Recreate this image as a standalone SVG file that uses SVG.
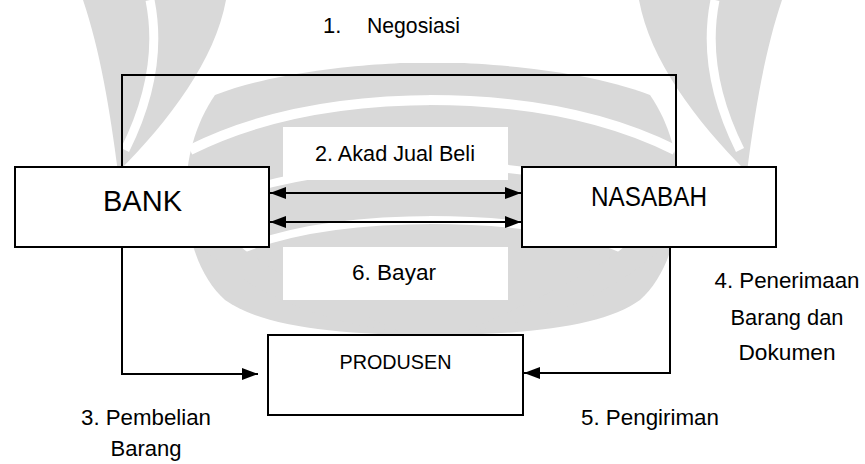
<svg xmlns="http://www.w3.org/2000/svg" xmlns:xlink="http://www.w3.org/1999/xlink" width="865" height="464" viewBox="0 0 865 464">
  <defs>
    <style>
      .wm { fill: #d9d9d9; stroke: none; }
      .wmw { fill: none; stroke: #ffffff; }
      .pad { fill: #ffffff; stroke: none; }
      .box { fill: #ffffff; stroke: #000000; stroke-width: 2; }
      .conn { fill: none; stroke: #000000; stroke-width: 2; }
      text { font-family: "Liberation Sans", Arial, sans-serif; fill: #000000; }
      .lbl { font-size: 22px; }
    </style>
    <marker id="arr" viewBox="0 0 16 12" refX="16" refY="6" markerWidth="16" markerHeight="12" markerUnits="userSpaceOnUse" orient="auto-start-reverse">
      <path d="M0,0 L16,6 L0,12 Z" fill="#000000"/>
    </marker>
    <g id="wmhalf">
      <path class="wm" d="M83,0 H226 C215,60 170,120 118,172 C110,110 100,50 83,0 Z"/>
      <path class="wmw" stroke-width="9" d="M150,0 C160,50 150,100 125,150"/>
      <path class="wm" d="M215,95 C300,62 436,62 436,62 V335 C330,335 260,325 225,300 C180,260 170,160 215,95 Z"/>
      <path class="wmw" stroke-width="10" d="M190,150 C280,105 380,100 436,100"/>
      <path class="wmw" stroke-width="8" d="M215,200 C300,170 380,165 436,165"/>
      <path class="wmw" stroke-width="8" d="M240,250 C300,225 380,220 436,220"/>
      <path class="wm" d="M187,232 C230,280 300,320 400,332 C330,300 260,270 225,232 Z"/>
    </g>
  </defs>

  <g id="watermark">
    <use xlink:href="#wmhalf"/>
    <use xlink:href="#wmhalf" transform="translate(865,0) scale(-1,1)"/>
  </g>

  <g id="label-pads">
    <rect class="pad" x="258" y="0" width="281" height="63"/>
    <rect class="pad" x="283" y="127" width="225" height="53"/>
    <rect class="pad" x="283" y="247" width="225" height="53"/>
  </g>

  <g id="connectors">
    <path class="conn" d="M122,167 V75 H676 V167"/>
    <line class="conn" x1="270" y1="193" x2="521" y2="193" marker-start="url(#arr)" marker-end="url(#arr)"/>
    <line class="conn" x1="270" y1="222" x2="521" y2="222" marker-start="url(#arr)" marker-end="url(#arr)"/>
    <path class="conn" d="M122,247 V374 H258" marker-end="url(#arr)"/>
    <path class="conn" d="M670,247 V373 H524" marker-end="url(#arr)"/>
  </g>

  <g id="bank">
    <rect class="box" x="15" y="167" width="254" height="80"/>
    <text x="142.5" y="211" font-size="29" text-anchor="middle" textLength="79" lengthAdjust="spacingAndGlyphs">BANK</text>
  </g>
  <g id="nasabah">
    <rect class="box" x="522" y="167" width="254" height="80"/>
    <text x="649" y="205.5" font-size="28" text-anchor="middle" textLength="116" lengthAdjust="spacingAndGlyphs">NASABAH</text>
  </g>
  <g id="produsen">
    <rect class="box" x="268" y="335" width="255" height="80"/>
    <text x="395.5" y="369" font-size="21" text-anchor="middle" textLength="112" lengthAdjust="spacingAndGlyphs">PRODUSEN</text>
  </g>

  <g id="labels">
    <text class="lbl" x="323" y="33">1.</text>
    <text class="lbl" x="367" y="33" textLength="93" lengthAdjust="spacingAndGlyphs">Negosiasi</text>
    <text class="lbl" x="395" y="161" text-anchor="middle" textLength="160" lengthAdjust="spacingAndGlyphs">2. Akad Jual Beli</text>
    <text class="lbl" x="394" y="280" text-anchor="middle" textLength="84" lengthAdjust="spacingAndGlyphs">6. Bayar</text>
    <text class="lbl" x="146" y="425" text-anchor="middle" textLength="130" lengthAdjust="spacingAndGlyphs">3. Pembelian</text>
    <text class="lbl" x="146" y="456" text-anchor="middle" textLength="71" lengthAdjust="spacingAndGlyphs">Barang</text>
    <text class="lbl" x="787" y="288" text-anchor="middle" textLength="145" lengthAdjust="spacingAndGlyphs">4. Penerimaan</text>
    <text class="lbl" x="787" y="325" text-anchor="middle" textLength="113" lengthAdjust="spacingAndGlyphs">Barang dan</text>
    <text class="lbl" x="787" y="360" text-anchor="middle" textLength="97" lengthAdjust="spacingAndGlyphs">Dokumen</text>
    <text class="lbl" x="650" y="425" text-anchor="middle" textLength="138" lengthAdjust="spacingAndGlyphs">5. Pengiriman</text>
  </g>
</svg>
